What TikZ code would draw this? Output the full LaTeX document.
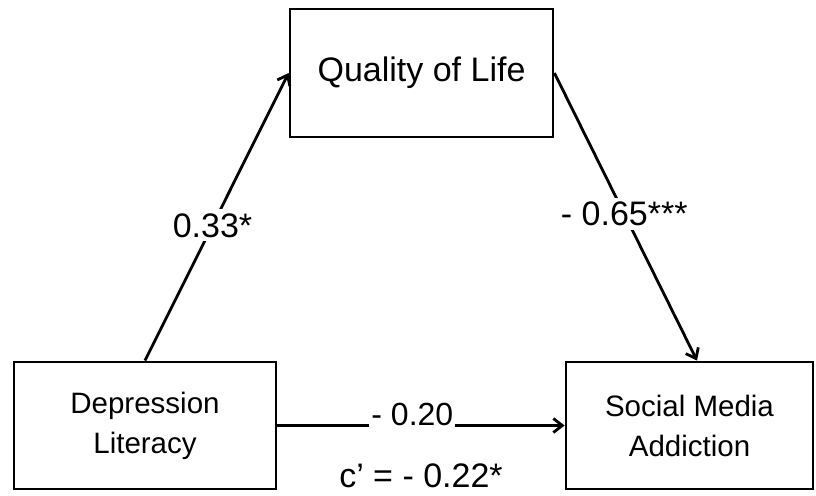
\documentclass[tikz,border=0pt]{standalone}
\usepackage{fontspec}
\setmainfont{Liberation Sans}
\usetikzlibrary{calc}
\usetikzlibrary{arrows.meta}

\begin{document}
\begin{tikzpicture}[x=1pt, y=-1pt,
  line width=2.8pt, >={Straight Barb[length=9pt,width=14pt]},
  boxn/.style={draw=black, inner sep=0pt, align=center,
    font=\fontsize{29.5}{40}\selectfont},
  coeffn/.style={fill=white, inner sep=4pt,
    font=\fontsize{34}{40}\selectfont}]
  \useasboundingbox (0,0) rectangle (816,495);
  \node[boxn, minimum width=263pt, minimum height=128pt,
    font=\fontsize{34}{40}\selectfont] (qol) at (421.5,73) {Quality of Life};
  \node[boxn, minimum width=262pt, minimum height=127pt] (dep) at (145,425.5) {Depression\\Literacy};
  \node[boxn, minimum width=247pt, minimum height=127pt] (sma) at (689.5,425.5) {Social Media\\Addiction};
  \draw[->] (dep.north) -- node[coeffn, pos=0.47] (a) {0.33*} (qol.west);
  \draw[->] (qol.east) -- node[coeffn, pos=0.49] (b) {- 0.65***} ([xshift=7.5pt]sma.north);
  \draw[->] (dep.east) -- node[coeffn, pos=0.47, anchor=base, inner sep=2pt,
    font=\fontsize{32}{40}\selectfont] (c) {- 0.20} (sma.west);
  \node[anchor=base, inner sep=0pt, font=\fontsize{34}{40}\selectfont] (cp)
    at ($(dep.east)!0.5!(sma.west)+(0,61.5)$) {c’ = - 0.22*};
\end{tikzpicture}
\end{document}
